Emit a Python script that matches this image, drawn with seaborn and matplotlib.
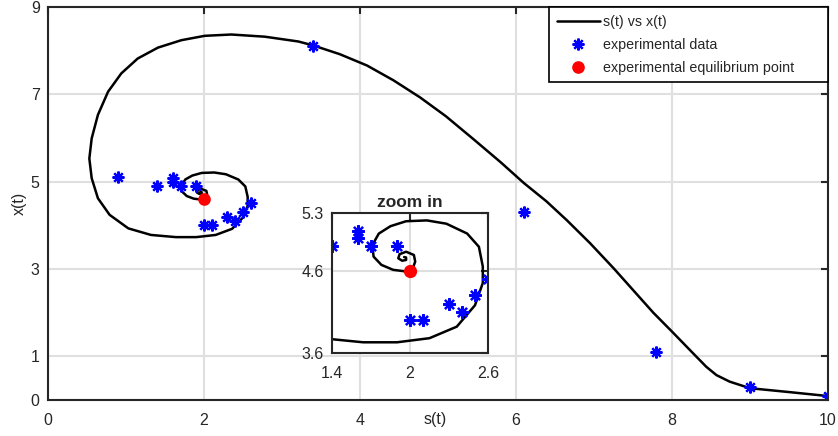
import numpy as np
import seaborn as sb
import matplotlib.pyplot as plt

# trajectory s(t) vs x(t)
s_curve = [10.0, 9.51, 9.0, 8.74, 8.57, 8.44, 8.27, 8.02, 7.76, 7.5, 7.25, 6.95,
           6.65, 6.39, 6.1, 5.8, 5.45, 5.1, 4.77, 4.43, 4.09, 3.74, 3.4, 3.21,
           2.78, 2.35, 2.01, 1.71, 1.41, 1.15, 0.94, 0.77, 0.64, 0.56, 0.53,
           0.56, 0.64, 0.79, 1.03, 1.32, 1.64, 1.9, 2.15, 2.36, 2.5, 2.56,
           2.56, 2.53, 2.44, 2.28, 2.13, 1.97, 1.85, 1.76, 1.71, 1.72, 1.78,
           1.87, 1.97, 2.02, 2.04, 2.03, 1.97, 1.92, 1.91, 1.94, 1.97, 1.97, 1.955]
x_curve = [0.09, 0.18, 0.27, 0.42, 0.57, 0.76, 1.07, 1.53, 2.0, 2.52, 3.02, 3.59,
           4.12, 4.55, 4.97, 5.45, 5.98, 6.5, 6.93, 7.32, 7.66, 7.92, 8.12, 8.21,
           8.32, 8.37, 8.34, 8.24, 8.07, 7.82, 7.48, 7.06, 6.53, 5.99, 5.53,
           5.08, 4.62, 4.24, 3.93, 3.78, 3.73, 3.73, 3.78, 3.92, 4.18, 4.45,
           4.65, 4.89, 5.05, 5.17, 5.21, 5.2, 5.14, 5.05, 4.91, 4.77, 4.67,
           4.61, 4.59, 4.62, 4.71, 4.79, 4.83, 4.8, 4.75, 4.72, 4.73, 4.76, 4.765]

# experimental data
s_data = [0.9, 1.4, 1.6, 1.6, 1.7, 1.9, 2.0, 2.1, 2.3, 2.4, 2.5, 2.6, 3.4, 6.1, 7.8, 9.0, 10.0]
x_data = [5.1, 4.9, 5.08, 5.0, 4.9, 4.9, 4.0, 4.0, 4.2, 4.1, 4.3, 4.5, 8.1, 4.3, 1.1, 0.3, 0.1]

# equilibrium point
s_eq = [2.0]
x_eq = [4.6]

sb.set_style("white")
plt.rcParams['font.family'] = ['Liberation Sans', 'DejaVu Sans']
dark = "#262626"
star = (8, 2, 0)


def draw(ax, lw, ms):
    sb.lineplot(x=s_curve, y=x_curve, sort=False, estimator=None, color="black",
                linewidth=lw, ax=ax, label="s(t) vs x(t)")
    ax.plot(s_data, x_data, linestyle="none", marker=star, markersize=ms,
            markeredgewidth=1.6, color="blue", label="experimental data")
    ax.plot(s_eq, x_eq, linestyle="none", marker="o", markersize=ms * 0.95,
            color="red", label="experimental equilibrium point")
    ax.lines[0].set_solid_joinstyle("round")


def style(ax):
    ax.grid(True, color="#dfdfdf", linewidth=1.5)
    ax.set_axisbelow(True)
    for sp in ax.spines.values():
        sp.set_visible(True)
        sp.set_color(dark)
        sp.set_linewidth(1.5)
    ax.tick_params(direction="in", length=5, width=1.5, colors=dark,
                   labelsize=11.5, top=True, right=True, labelcolor=dark)
    ax.tick_params(axis="x", pad=9)
    ax.tick_params(axis="y", pad=6)


fig = plt.figure(figsize=(8.38, 4.36), dpi=100)
ax = fig.add_axes([48 / 838, 36 / 436, 780 / 838, 393 / 436])
draw(ax, 1.8, 8.5)
ax.set_xlim(0, 10)
ax.set_ylim(0, 9)
ax.set_xticks([0, 2, 4, 6, 8, 10])
ax.set_yticks([0, 1, 3, 5, 7, 9])
style(ax)
ax.set_xlabel("s(t)", fontsize=11.5, color=dark)
ax.xaxis.set_label_coords(0.496, -0.03)
ax.set_ylabel("x(t)", fontsize=11.5, color=dark, labelpad=3)
leg = ax.legend(loc="upper left", bbox_to_anchor=(501 / 780, 1 - 73 / 393, 279 / 780, 73 / 393),
                mode="expand", borderaxespad=0, fancybox=False, edgecolor="black",
                framealpha=1, fontsize=10.3, handlelength=3.0, handletextpad=0.25,
                borderpad=0.55, labelspacing=0.62)
leg.get_frame().set_linewidth(1.2)

# zoom-in inset
axin = fig.add_axes([332 / 838, 83 / 436, 156 / 838, 140 / 436])
axin.set_facecolor("white")
draw(axin, 1.8, 9)
axin.set_xlim(1.4, 2.6)
axin.set_ylim(3.6, 5.3)
axin.set_xticks([1.4, 2, 2.6])
axin.set_xticklabels(["1.4", "2", "2.6"])
axin.set_yticks([3.6, 4.6, 5.3])
style(axin)
axin.get_legend().remove()
axin.set_title("zoom in", fontsize=12.5, fontweight="bold", pad=4)

fig.savefig("out.png", dpi=100)
